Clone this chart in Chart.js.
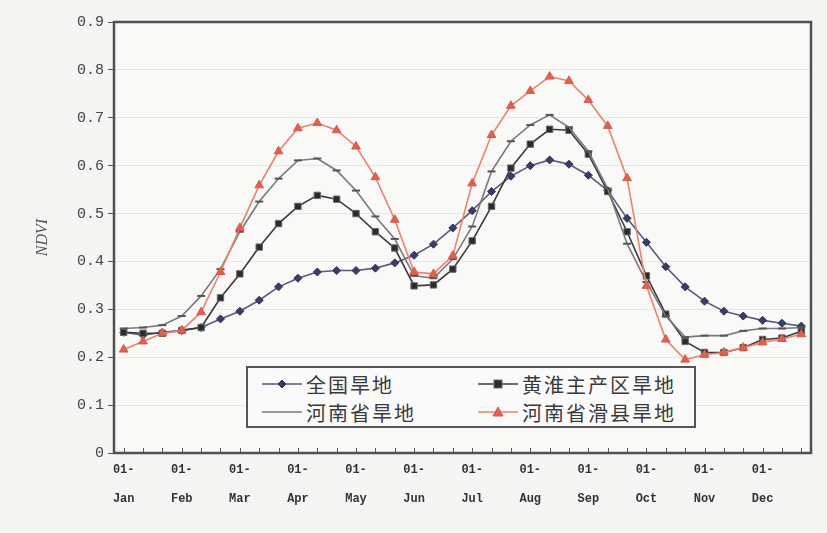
<!DOCTYPE html>
<html><head><meta charset="utf-8">
<script src="https://cdn.jsdelivr.net/npm/chart.js@4"></script>
<style>
html,body{margin:0;padding:0;background:#f5f5f3;}
#wrap{position:relative;width:827px;height:533px;overflow:hidden;}
canvas{display:block}
#legend{position:absolute;left:246px;top:366px;width:450px;height:62px;border:2px solid #555;background:#fafafa;box-sizing:border-box;font-family:"Noto Sans CJK SC",sans-serif;font-size:20px;color:#3a3a3a;}
.item{position:absolute;display:flex;align-items:center;height:26px;white-space:nowrap;letter-spacing:2px;}
.item svg{margin-right:4px;flex:none}
</style></head>
<body><div id="wrap"><canvas id="c" width="827" height="533"></canvas>
<div id="legend"></div></div>
<script>
const categories = [
 "01-Jan","11-Jan","21-Jan","01-Feb","11-Feb","21-Feb","01-Mar","11-Mar","21-Mar",
 "01-Apr","11-Apr","21-Apr","01-May","11-May","21-May","01-Jun","11-Jun","21-Jun",
 "01-Jul","11-Jul","21-Jul","01-Aug","11-Aug","21-Aug","01-Sep","11-Sep","21-Sep",
 "01-Oct","11-Oct","21-Oct","01-Nov","11-Nov","21-Nov","01-Dec","11-Dec","21-Dec"];
const yTicks = [0,0.1,0.2,0.3,0.4,0.5,0.6,0.7,0.8,0.9];
const seriesNames = ["全国旱地","黄淮主产区旱地","河南省旱地","河南省滑县旱地"];
const nationalDry = [0.252,0.246,0.252,0.256,0.262,0.280,0.296,0.319,0.347,0.365,0.378,0.381,
 0.381,0.386,0.397,0.413,0.436,0.470,0.506,0.546,0.578,0.600,0.612,0.603,
 0.580,0.548,0.490,0.440,0.389,0.347,0.317,0.296,0.286,0.277,0.271,0.265];
const huangHuaiDry = [0.252,0.250,0.250,0.256,0.262,0.324,0.374,0.430,0.479,0.515,0.538,0.530,
 0.500,0.462,0.428,0.349,0.351,0.384,0.443,0.515,0.595,0.645,0.676,0.674,
 0.624,0.546,0.462,0.370,0.290,0.233,0.210,0.210,0.220,0.237,0.240,0.254];
const henanDry = [0.260,0.262,0.267,0.286,0.328,0.384,0.462,0.525,0.573,0.611,0.615,0.590,
 0.548,0.494,0.447,0.370,0.365,0.405,0.473,0.588,0.651,0.685,0.706,0.680,
 0.630,0.552,0.437,0.357,0.286,0.242,0.245,0.245,0.255,0.260,0.260,0.262];
const huaxianDry = [0.216,0.233,0.250,0.256,0.294,0.378,0.470,0.559,0.630,0.678,0.689,0.674,
 0.640,0.576,0.487,0.378,0.374,0.412,0.563,0.664,0.725,0.756,0.786,0.777,
 0.737,0.683,0.574,0.349,0.237,0.195,0.205,0.210,0.220,0.231,0.238,0.248];

const styles = [
 {line:"#5a5a7e", fill:"#3c3c6c", edge:"#2e2e58", shape:"rectRot", r:4},
 {line:"#3a3a3a", fill:"#2b2b2b", edge:"#666", shape:"rect", r:4.5},
 {line:"#7a7a7a", fill:"#555", edge:"#555", shape:"line", r:4},
 {line:"#e9836e", fill:"#e2604c", edge:"#d85a48", shape:"triangle", r:5}
];
const values = [nationalDry, huangHuaiDry, henanDry, huaxianDry];

const frame = {
 id:"frame",
 beforeDraw(chart){
  const {ctx, chartArea:a} = chart;
  ctx.save();
  ctx.fillStyle="#f5f5f3"; ctx.fillRect(0,0,chart.width,chart.height);
  ctx.fillStyle="#f9f9f8"; ctx.fillRect(a.left,a.top,a.right-a.left,a.bottom-a.top);
  ctx.restore();
 },
 afterDraw(chart){
  const {ctx, chartArea:a} = chart;
  const xs = chart.scales.x;
  ctx.save();
  ctx.strokeStyle="#555"; ctx.lineWidth=1;
  for(let i=0;i<categories.length;i++){
   const x=Math.round(xs.getPixelForValue(i))+0.5;
   ctx.beginPath(); ctx.moveTo(x,a.bottom); ctx.lineTo(x,a.bottom-5); ctx.stroke();
  }
  ctx.strokeStyle="#505050"; ctx.lineWidth=2.5;
  ctx.strokeRect(a.left,a.top,a.right-a.left,a.bottom-a.top);
  ctx.restore();
 }
};

new Chart(document.getElementById("c"),{
 type:"line",
 data:{labels:categories, datasets: values.map((v,i)=>({
   label:seriesNames[i], data:v, borderColor:styles[i].line, borderWidth:1.6,
   pointStyle:styles[i].shape, pointRadius:styles[i].r, pointBackgroundColor:styles[i].fill,
   pointBorderColor:styles[i].edge, pointBorderWidth:i===2?2:1, tension:0, fill:false,
   order:[3,2,1,0][i]
 }))},
 options:{
  responsive:false, animation:false, devicePixelRatio:1,
  layout:{padding:{left:0,top:22,right:16,bottom:0}},
  plugins:{legend:{display:false}, tooltip:{enabled:false}},
  scales:{
   x:{type:"category", offset:true,
      grid:{display:false, drawTicks:false}, border:{display:false},
      ticks:{autoSkip:false, maxRotation:0, minRotation:0, padding:3, color:"#333",
        font:{family:"'Liberation Mono', monospace", size:12, weight:"bold", lineHeight:2.4},
        callback:function(v){const l=categories[v]; return l.startsWith("01-")?["01-", l.slice(3)]:"";}},
      afterFit(s){s.height=80;}},
   y:{min:0,max:0.9,
      afterBuildTicks(s){s.ticks=yTicks.map(v=>({value:v}));},
      grid:{color:"rgba(0,0,0,0.07)", tickColor:"#555", tickLength:6, drawTicks:true},
      border:{display:false},
      ticks:{padding:4, color:"#444", font:{family:"'Liberation Mono', monospace", size:15},
        callback:v=>v===0?"0":v.toFixed(1)},
      title:{display:true, text:"NDVI", color:"#555", padding:{top:33,bottom:0},
        font:{family:"'Liberation Serif', serif", size:16, style:"italic"}},
      afterFit(s){s.width=114;}}
  }
 },
 plugins:[frame]
});

// legend overlay
const pos = [[14,3],[230,3],[14,31],[230,31]];
const leg = document.getElementById("legend");
function marker(st){
 const c=`fill="${st.fill}" stroke="${st.edge}" stroke-width="1"`;
 if(st.shape==="rectRot") return `<polygon points="20,4 24,8 20,12 16,8" ${c}/>`;
 if(st.shape==="rect") return `<rect x="16" y="4" width="8" height="8" ${c}/>`;
 if(st.shape==="triangle") return `<polygon points="20,3 25,12 15,12" ${c}/>`;
 return "";
}
seriesNames.forEach((n,i)=>{
 const st=styles[i];
 const d=document.createElement("div");
 d.className="item"; d.style.left=pos[i][0]+"px"; d.style.top=pos[i][1]+"px";
 d.innerHTML=`<svg width="40" height="16"><line x1="0" y1="8" x2="40" y2="8" stroke="${st.line}" stroke-width="1.6"/>${marker(st)}</svg><span>${n}</span>`;
 leg.appendChild(d);
});
</script>
</body></html>
